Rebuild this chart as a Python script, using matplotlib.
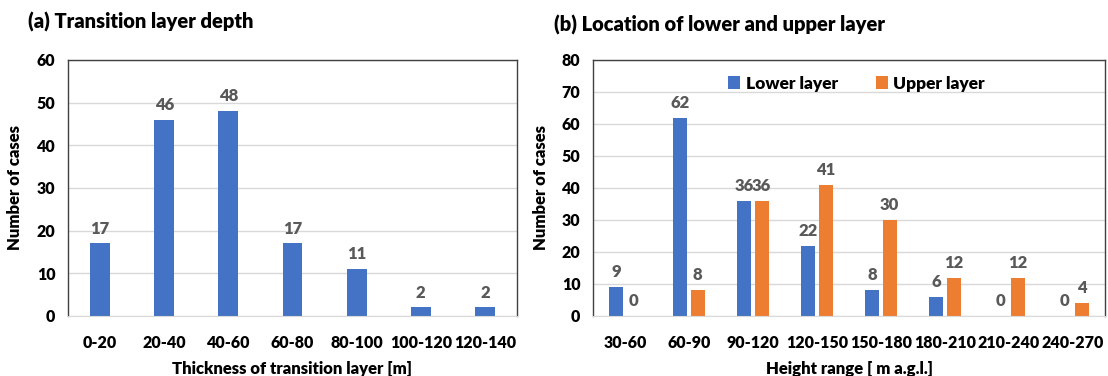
import numpy as np
import matplotlib.pyplot as plt

# (a) transition layer thickness
depth_bins = ["0-20", "20-40", "40-60", "60-80", "80-100", "100-120", "120-140"]
depth_counts = [17, 46, 48, 17, 11, 2, 2]

# (b) height of lower / upper layer
height_bins = ["30-60", "60-90", "90-120", "120-150", "150-180", "180-210", "210-240", "240-270"]
lower_counts = [9, 62, 36, 22, 8, 6, 0, 0]
upper_counts = [0, 8, 36, 41, 30, 12, 12, 4]

blue = "#4472C4"
orange = "#ED7D31"
lab_col = "#595959"

plt.rcParams["font.family"] = ["Lato", "DejaVu Sans"]
plt.rcParams["font.weight"] = "bold"

fig = plt.figure(figsize=(11.08, 3.76), dpi=100)
ax1 = fig.add_axes([68 / 1108, 60 / 376, (517 - 68) / 1108, (316 - 60) / 376])
ax2 = fig.add_axes([593 / 1108, 60 / 376, (1105 - 593) / 1108, (316 - 60) / 376])


def style(ax, ymax):
    ax.set_ylim(0, ymax)
    ax.set_yticks(np.arange(0, ymax + 1, 10))
    ax.grid(axis="y", color="#D9D9D9", linewidth=1)
    ax.set_axisbelow(True)
    for s in ["top", "right", "left"]:
        ax.spines[s].set_color("#404040")
        ax.spines[s].set_linewidth(1)
    ax.spines["bottom"].set_color("#D9D9D9")
    ax.tick_params(length=0, labelsize=11.5)
    ax.tick_params(axis="x", pad=14)
    ax.tick_params(axis="y", pad=9)
    for t in ax.get_xticklabels() + ax.get_yticklabels():
        t.set_fontweight("heavy")


# (a)
x = np.arange(len(depth_bins))
bars = ax1.bar(x, depth_counts, width=0.31, color=blue)
ax1.bar_label(bars, padding=5, fontsize=12, color=lab_col, fontweight="heavy")
ax1.set_xlim(-0.5, len(depth_bins) - 0.5)
ax1.set_xticks(x)
ax1.set_xticklabels(depth_bins)
style(ax1, 60)
ax1.set_xlabel("Thickness of transition layer [m]", fontsize=12, fontweight="heavy", labelpad=7)
ax1.set_ylabel("Number of cases", fontsize=12, fontweight="heavy")
ax1.yaxis.set_label_coords(-45 / 449, 0.5)
fig.text(28 / 1108, 1 - 22 / 376, "(a) Transition layer depth", fontsize=14.5,
         fontweight="heavy", va="center", ha="left")

# (b)
x2 = np.arange(len(height_bins))
w = 0.22
off = 0.135
b1 = ax2.bar(x2 - off, lower_counts, width=w, color=blue, label="Lower layer")
b2 = ax2.bar(x2 + off, upper_counts, width=w, color=orange, label="Upper layer")
ax2.bar_label(b1, padding=5, fontsize=12, color=lab_col, fontweight="heavy")
ax2.bar_label(b2, padding=5, fontsize=12, color=lab_col, fontweight="heavy")
ax2.set_xlim(-0.5, len(height_bins) - 0.5)
ax2.set_xticks(x2)
ax2.set_xticklabels(height_bins)
style(ax2, 80)
ax2.set_xlabel("Height range [ m a.g.l.]", fontsize=12, fontweight="heavy", labelpad=7)
ax2.set_ylabel("Number of cases", fontsize=12, fontweight="heavy")
ax2.yaxis.set_label_coords(-44 / 512, 0.5)
leg = ax2.legend(loc="upper center", bbox_to_anchor=(0.515, 1.0), ncol=2, frameon=False,
                 fontsize=12.5, handlelength=0.7, handleheight=0.7, handletextpad=0.3,
                 columnspacing=2.2)
for t in leg.get_texts():
    t.set_fontweight("heavy")
fig.text(554 / 1108, 1 - 25 / 376, "(b) Location of lower and upper layer", fontsize=14.5,
         fontweight="heavy", va="center", ha="left")

fig.savefig("out.png", dpi=100)
